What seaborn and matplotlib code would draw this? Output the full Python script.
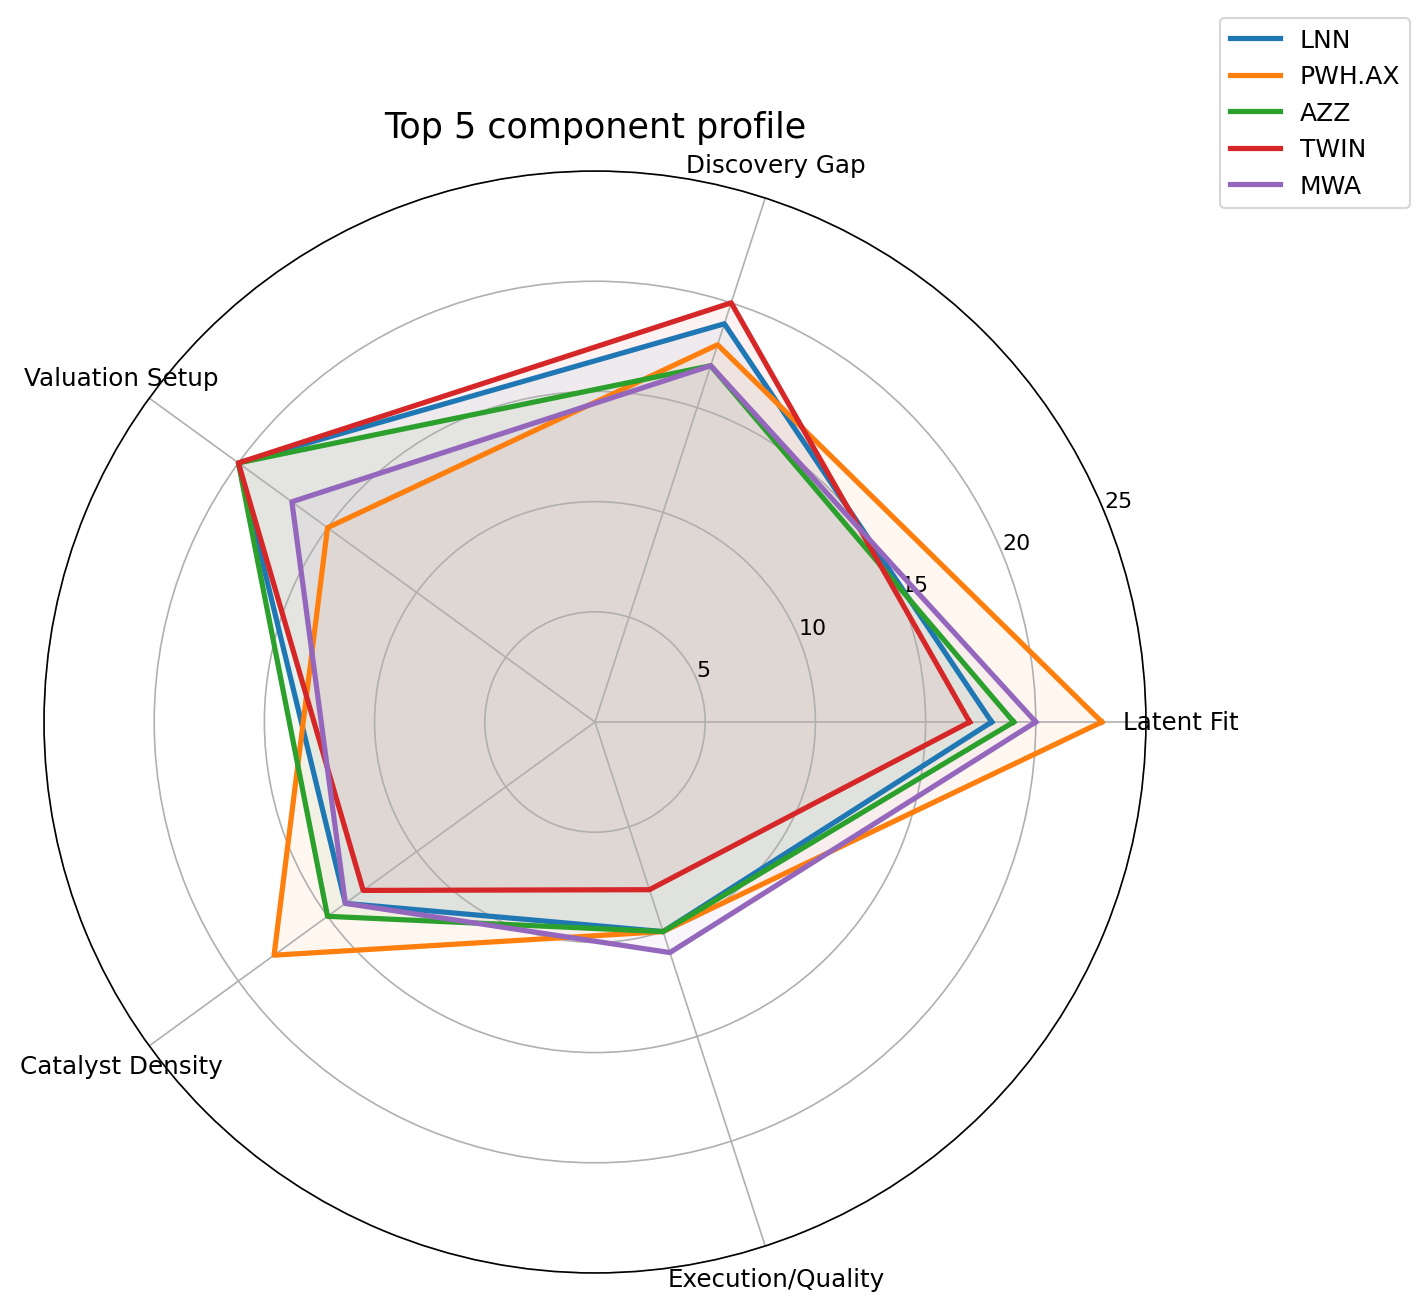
import numpy as np
import pandas as pd
import seaborn as sns
import matplotlib.pyplot as plt

# component scores
components = ["Latent Fit", "Discovery Gap", "Valuation Setup",
              "Catalyst Density", "Execution/Quality"]
tickers = ["LNN", "PWH.AX", "AZZ", "TWIN", "MWA"]

lnn = [18, 19, 20, 14, 10]
pwh = [23, 18, 15, 18, 10]
azz = [19, 17, 20, 15, 10]
twin = [17, 20, 20, 13, 8]
mwa = [20, 17, 17, 14, 11]

ring_ticks = [5, 10, 15, 20, 25]

scores = {"LNN": lnn, "PWH.AX": pwh, "AZZ": azz, "TWIN": twin, "MWA": mwa}
colors = sns.color_palette("tab10", len(tickers))

angles = np.linspace(0, 2 * np.pi, len(components), endpoint=False)
closed_angles = np.append(angles, 2 * np.pi)

rows = []
for name in tickers:
    vals = scores[name] + scores[name][:1]
    for a, v in zip(closed_angles, vals):
        rows.append({"theta": a, "score": v, "ticker": name})
df = pd.DataFrame(rows)

fig = plt.figure(figsize=(9.52, 8.733), dpi=150)
ax = fig.add_axes([0.0308, 0.0275, 0.7717, 0.8412], projection="polar")

sns.lineplot(data=df, x="theta", y="score", hue="ticker", hue_order=tickers,
             palette=colors, linewidth=2.5, sort=False, ax=ax)

for name, c in zip(tickers, colors):
    sub = df[df["ticker"] == name]
    ax.fill(sub["theta"], sub["score"], color=c, alpha=0.06)

ax.set_xlabel("")
ax.set_ylabel("")
ax.set_xticks(angles)
ax.set_xticklabels(components, fontsize=11.8)
ax.set_ylim(0, 25)
ax.set_yticks(ring_ticks)
ax.set_yticklabels([str(t) for t in ring_ticks], fontsize=10.6)
ax.tick_params(axis="x", pad=6)
ax.set_title("Top 5 component profile", fontsize=16.8, pad=8)

handles, labels = ax.get_legend_handles_labels()
ax.legend(handles, labels, loc="upper right", bbox_to_anchor=(0.9874, 0.9855),
          bbox_transform=fig.transFigure, borderaxespad=0, fontsize=12)

fig.savefig("out.png", dpi=150)
